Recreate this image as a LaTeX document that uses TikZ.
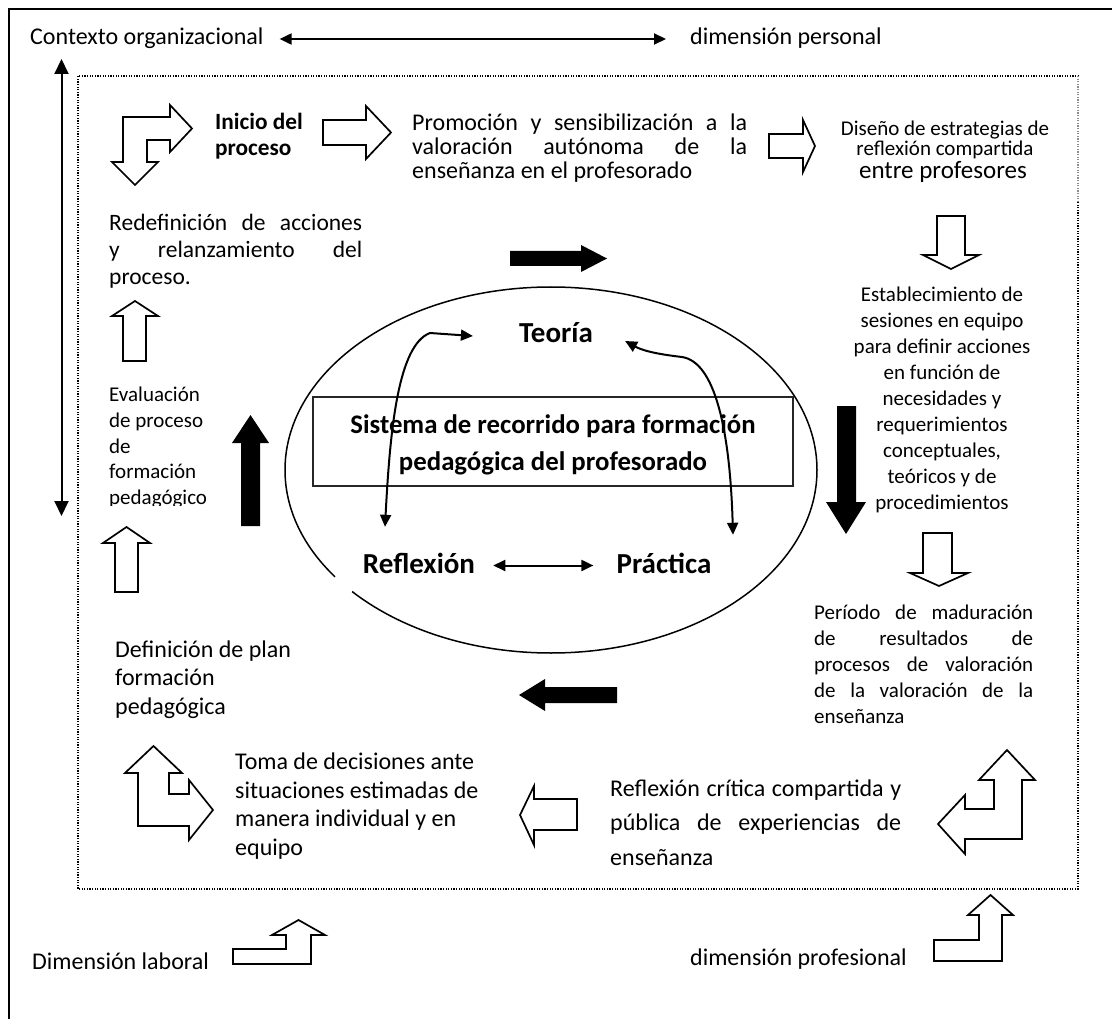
\documentclass[tikz,border=0pt]{standalone}
\usepackage{fontspec}
\setmainfont{Carlito}
\usetikzlibrary{arrows.meta}
% first-line strut and justified line helpers
\newcommand\fl{\rule{0pt}{24pt}}
\newcommand\jl[2]{\makebox[#1][s]{#2}}
\lineskiplimit=-100pt
\lineskip=0pt
\begin{document}
\begin{tikzpicture}[x=1pt,y=-1pt,
  >={Triangle[length=12pt,width=11pt]},
  every node/.style={inner sep=0pt},
  lbl/.style={font=\fontsize{24}{28}\selectfont, text height=17pt, text depth=5pt},
  big/.style={font=\bfseries\fontsize{29}{34}\selectfont, text height=21pt, text depth=6pt},
  txt/.style={anchor=north west, align=left},
  ctr/.style={anchor=north, align=center},
  thinarrow/.style={<->, line width=2pt},
  hollow/.style={draw=black, fill=white, line width=1.7pt, line join=miter},
  blockarrow/.style={fill=black},
  dotline/.style={line width=1.3pt, dash pattern=on 1.3pt off 1.3pt}]

\useasboundingbox (0,0) rectangle (1112,1019);
\fill[white] (0,0) rectangle (1112,1019);

% outer frame
\begin{scope}
  \clip (0,0) rectangle (1112,1019);
  \draw[line width=1.8pt] (9,1040) -- (9,9) -- (1130,9);
\end{scope}

% inner dotted frame
\draw[dotline] (1078,202) -- (1078,889) -- (78,889) -- (78,76) -- (1078,76);
\draw[dotline, black!45] (1078,76) -- (1078,202);

% context labels
\node[lbl, anchor=base west] (ctx) at (30,45) {Contexto organizacional};
\node[lbl, anchor=base west] (pers) at (690,45) {dimensión personal};
\draw[thinarrow, shorten <=16pt, shorten >=24pt] (ctx.east) -- (pers.west);

\coordinate (vtop) at (61.5,59);
\coordinate (vbot) at (61.5,516);
\draw[thinarrow, >={Triangle[length=15pt,width=14pt]}] (vtop) -- (vbot);

% outline arrows
\draw[hollow] (123,162) -- (123,117) -- (170,117) -- (170,105) -- (192,128.5) -- (170,152) -- (170,140) -- (147,140) -- (147,162) -- (158,162) -- (135,185) -- (112,162) -- cycle;
\draw[hollow] (323,120) -- (366,120) -- (366,106) -- (391,132.5) -- (366,159) -- (366,145) -- (323,145) -- cycle;
\draw[hollow] (769,134) -- (803,134) -- (803,120) -- (815,146) -- (803,172) -- (803,158) -- (769,158) -- cycle;
\draw[hollow] (937,216) -- (965,216) -- (965,255) -- (979,255) -- (951,269) -- (923,255) -- (937,255) -- cycle;
\draw[hollow] (923,533) -- (952,533) -- (952,573) -- (968,573) -- (939,586) -- (910,573) -- (923,573) -- cycle;
\draw[hollow] (123,361) -- (123,316) -- (112,316) -- (135,301) -- (158,316) -- (146,316) -- (146,361) -- cycle;
\draw[hollow] (115,592) -- (115,543) -- (103,543) -- (126.5,527) -- (150,543) -- (138,543) -- (138,592) -- cycle;
\draw[hollow] (577,799) -- (534,799) -- (534,786) -- (520,815) -- (534,845) -- (534,830) -- (577,830) -- cycle;
\draw[hollow] (138,826) -- (138,773) -- (125,773) -- (153.5,746) -- (182,773) -- (169,773) -- (169,794) -- (189,794) -- (189,780) -- (213,810) -- (189,840) -- (189,826) -- cycle;
\draw[hollow] (994,780) -- (979,780) -- (1007,750) -- (1035,780) -- (1022,780) -- (1022,839) -- (965,839) -- (965,854) -- (938,824) -- (965,795) -- (965,809) -- (994,809) -- cycle;
\draw[hollow] (233,949) -- (286,949) -- (286,935) -- (272,935) -- (298.5,920) -- (325,935) -- (311,935) -- (311,964) -- (233,964) -- cycle;
\draw[hollow] (934,940) -- (979,940) -- (979,915) -- (968,915) -- (990.5,895) -- (1013,915) -- (1002,915) -- (1002,961) -- (934,961) -- cycle;

% solid block arrows around the cycle
\fill[blockarrow] (510,251) -- (581,251) -- (581,245) -- (607,258.5) -- (581,272) -- (581,266) -- (510,266) -- cycle;
\fill[blockarrow] (837,406) -- (856,406) -- (856,502) -- (866,502) -- (846,534) -- (826,502) -- (837,502) -- cycle;
\fill[blockarrow] (617,687) -- (545,687) -- (545,679) -- (519,695) -- (545,711) -- (545,703) -- (617,703) -- cycle;
\fill[blockarrow] (241,526) -- (241,443) -- (232,443) -- (250.5,415) -- (269,443) -- (260,443) -- (260,526) -- cycle;

% central ellipse
\draw[line width=1.5pt] (551,470) ellipse [x radius=266pt, y radius=183pt];
\fill[white] (338.2,573.2) -- (355.2,587.6) -- (348.8,595.3) -- (331.8,580.9) -- cycle;

\node[draw=black!85, line width=1.8pt, minimum width=480pt, minimum height=89pt, align=center,
      font=\bfseries\fontsize{26.8}{37}\selectfont] (sis) at (553,441.5)
      {\rule{0pt}{26pt}Sistema de recorrido para formación\\pedagógica del profesorado};

\node[big, anchor=base] (teo) at (556,342) {Teoría};
\node[big, anchor=base] (refl) at (419,573) {Reflexión};
\node[big, anchor=base] (prac) at (664,573) {Práctica};

\draw[thinarrow, shorten <=18pt, shorten >=23pt] (refl.east) -- (prac.west);
\draw[thinarrow] ([xshift=-34pt,yshift=25pt]refl.north) .. controls (390,430) and (398,345) .. (430,333) -- ([xshift=-46pt,yshift=-1.5pt]teo.west);
\draw[thinarrow] ([xshift=32pt,yshift=-6.5pt]teo.east) .. controls (645,352) and (665,355) .. (682,357) .. controls (715,362) and (730,430) .. ([xshift=69pt,yshift=17pt]prac.north);

% process steps
\node[txt, font=\bfseries\fontsize{23.3}{26}\selectfont] (ini) at (215,105) {\fl Inicio del\\proceso};
\node[txt, font=\fontsize{24}{24}\selectfont] (prom) at (412,106.2)
  {\fl\jl{335pt}{Promoción y sensibilización a la}\\\jl{335pt}{valoración autónoma de la}\\enseñanza en el profesorado};
\node[ctr, font=\fontsize{21}{20.5}\selectfont] (dis) at (945,111) {\fl Diseño de estrategias de\\reflexión compartida};
\node[anchor=base, font=\fontsize{25}{30}\selectfont] (dis2) at (943,179) {entre profesores};
\node[txt, font=\fontsize{23.5}{27}\selectfont] (redef) at (109,206)
  {\fl\jl{253pt}{Redefinición de acciones}\\\jl{253pt}{y relanzamiento del}\\proceso.};
\node[ctr, font=\fontsize{21}{26}\selectfont] (est) at (942,277)
  {\fl Establecimiento de\\sesiones en equipo\\para definir acciones\\en función de\\necesidades y\\requerimientos\\conceptuales,\\teóricos y de\\procedimientos};
\begin{scope}
  \clip (95,370) rectangle (240,505);
  \node[txt, font=\fontsize{21}{25.8}\selectfont] (eval) at (109,377.3)
    {\fl Evaluación\\de proceso\\de\\formación\\pedagógico};
\end{scope}
\node[txt, font=\fontsize{21}{26}\selectfont] (per) at (814,595.3)
  {\fl\jl{219pt}{Período de maduración}\\\jl{219pt}{de resultados de}\\\jl{219pt}{procesos de valoración}\\\jl{219pt}{de la valoración de la}\\enseñanza};
\node[txt, font=\fontsize{24}{28.5}\selectfont] (def) at (115,633.2) {\fl Definición de plan\\formación\\pedagógica};
\node[txt, font=\fontsize{24}{28.7}\selectfont] (toma) at (235,745.2)
  {\fl Toma de decisiones ante\\situaciones estimadas de\\manera individual y en\\equipo};
\node[txt, font=\fontsize{24}{34.5}\selectfont] (refc) at (610,772.2)
  {\fl\jl{291pt}{Reflexión crítica compartida y}\\\jl{291pt}{pública de experiencias de}\\enseñanza};

% outer dimensions
\node[lbl, anchor=base west] (lab) at (32,969) {Dimensión laboral};
\node[lbl, anchor=base west] (pro) at (690,965) {dimensión profesional};
\end{tikzpicture}
\end{document}
